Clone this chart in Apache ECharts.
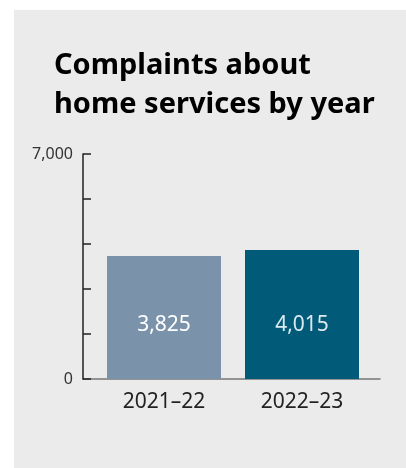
<!DOCTYPE html>
<html>
<head>
<meta charset="utf-8">
<script src="https://cdn.jsdelivr.net/npm/echarts@6/dist/echarts.min.js"></script>
<style>
  html, body { margin: 0; padding: 0; background: #ffffff; }
  #panel { position: absolute; left: 14px; top: 10px; right: 0; bottom: 0; background: #ebebeb; }
  #chart { position: absolute; left: 0; top: 0; width: 406px; height: 468px; }
</style>
</head>
<body>
<div id="panel"></div>
<div id="chart"></div>
<script>
const titleText = 'Complaints about\nhome services by year';
const categories = ['2021–22', '2022–23'];
const complaints = [3825, 4015];
const barColors = ['#7b93aa', '#015a78'];
const labelColors = ['#ffffff', '#dbe9f0'];
const yMin = 0, yMax = 7000, yInterval = 1400;
const yLabelValues = [0, 7000];

const chart = echarts.init(document.getElementById('chart'), null, { renderer: 'canvas' });
const fmt = v => v.toLocaleString('en-US');

chart.setOption({
  backgroundColor: 'transparent',
  animation: false,
  title: {
    text: titleText,
    left: 49, top: 41,
    textStyle: { fontFamily: 'Noto Sans', fontWeight: 'bold', fontSize: 29, lineHeight: 39, color: '#000' }
  },
  grid: [
    { left: 83, right: 26, top: 154, bottom: 89 },
    { left: 95, right: 35, top: 154, bottom: 89 }
  ],
  xAxis: [
    {
      gridIndex: 0, type: 'category', data: categories,
      axisLine: { show: true, lineStyle: { color: '#777', width: 1.5 } },
      axisTick: { show: false }, axisLabel: { show: false }, z: 1
    },
    {
      gridIndex: 1, type: 'category', data: categories,
      axisLine: { show: false }, axisTick: { show: false },
      axisLabel: { show: true, margin: 13, fontFamily: 'Noto Sans', fontSize: 21, color: '#222' }
    }
  ],
  yAxis: [
    {
      gridIndex: 0, type: 'value', min: yMin, max: yMax, interval: yInterval,
      axisLine: { show: true, lineStyle: { color: '#222', width: 1.5 } },
      axisTick: { show: true, inside: true, length: 8, lineStyle: { color: '#222', width: 1.5 } },
      splitLine: { show: false },
      axisLabel: {
        margin: 10, fontFamily: 'Noto Sans', fontSize: 16, color: '#333',
        formatter: v => yLabelValues.includes(v) ? fmt(v) : ''
      },
      z: 3
    },
    {
      gridIndex: 1, type: 'value', min: yMin, max: yMax, interval: yInterval,
      show: false, splitLine: { show: false }
    }
  ],
  series: [{
    type: 'bar',
    xAxisIndex: 1, yAxisIndex: 1,
    barWidth: 114,
    data: complaints.map((v, i) => ({
      value: v,
      itemStyle: { color: barColors[i] },
      label: { color: labelColors[i] }
    })),
    label: {
      show: true, position: 'insideBottom', distance: 43,
      fontFamily: 'Noto Sans', fontSize: 21,
      formatter: p => fmt(p.value)
    },
    z: 2
  }]
});
</script>
</body>
</html>
